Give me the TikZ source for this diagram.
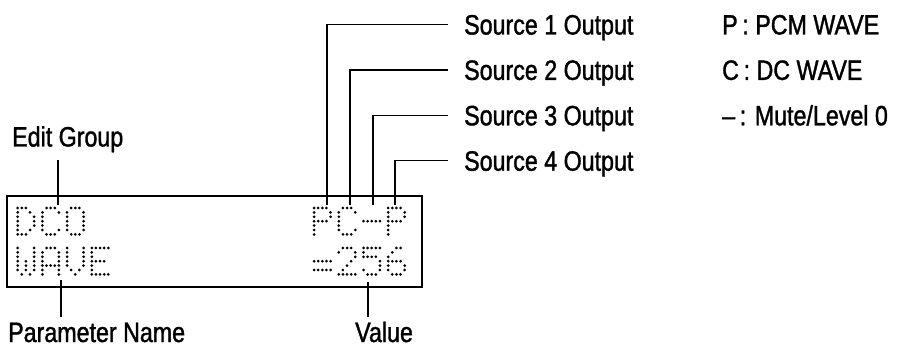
\documentclass[tikz,border=0pt]{standalone}
\usepackage{fontspec}
\setmainfont[FakeStretch=0.83, FakeBold=1.3]{Liberation Sans}
\usetikzlibrary{positioning}

% 5x7 dot glyphs, one row per item
\def\lcdD{11100,10010,10001,10001,10001,10010,11100}
\def\lcdC{01110,10001,10000,10000,10000,10001,01110}
\def\lcdO{01110,10001,10001,10001,10001,10001,01110}
\def\lcdW{10001,10001,10001,10101,10101,10101,01010}
\def\lcdA{01110,10001,10001,10001,11111,10001,10001}
\def\lcdV{10001,10001,10001,10001,10001,01010,00100}
\def\lcdE{11111,10000,10000,11110,10000,10000,11111}
\def\lcdP{11110,10001,10001,11110,10000,10000,10000}
\def\lcdDash{00000,00000,00000,11111,00000,00000,00000}
\def\lcdEq{00000,00000,00000,11111,00000,11111,00000}
\def\lcdTwo{01110,10001,00001,00010,00100,01000,11111}
\def\lcdFive{11111,10000,11110,00001,00001,10001,01110}
\def\lcdSix{00110,01000,10000,11110,10001,10001,01110}

\newcommand\lcddot[5]{\ifnum#1=1 \fill ({17.7+#3*24.7+#2*4.12},{208+#4*40+#5*4.4}) circle[radius=1.5pt];\fi}
\def\lcdrow#1#2#3#4#5\relax#6#7#8{%
  \lcddot{#1}{0}{#6}{#7}{#8}\lcddot{#2}{1}{#6}{#7}{#8}\lcddot{#3}{2}{#6}{#7}{#8}%
  \lcddot{#4}{3}{#6}{#7}{#8}\lcddot{#5}{4}{#6}{#7}{#8}}
\newcommand\lcdchar[3]{%
  \foreach \bits [count=\r from 0] in #3 {\expandafter\lcdrow\bits\relax{#1}{#2}{\r}}}

\begin{document}
\begin{tikzpicture}[
    x=1pt, y=-1pt,
    lbl/.style={inner sep=0pt, text height=20pt, text depth=0pt, font=\fontsize{28}{32}\selectfont},
    lcd/.style={draw, line width=1.9pt, minimum width=415pt, minimum height=91pt, inner sep=0pt},
    wire/.style={line width=1.5pt}
]
\useasboundingbox (0,0) rectangle (897,347);

% Display
\node[lcd] (lcd) at (214.5,241.5) {};
\lcdchar{0}{0}{\lcdD}
\lcdchar{1}{0}{\lcdC}
\lcdchar{2}{0}{\lcdO}
\lcdchar{12}{0}{\lcdP}
\lcdchar{13}{0}{\lcdC}
\lcdchar{14}{0}{\lcdDash}
\lcdchar{15}{0}{\lcdP}
\lcdchar{0}{1}{\lcdW}
\lcdchar{1}{1}{\lcdA}
\lcdchar{2}{1}{\lcdV}
\lcdchar{3}{1}{\lcdE}
\lcdchar{12}{1}{\lcdEq}
\lcdchar{13}{1}{\lcdTwo}
\lcdchar{14}{1}{\lcdFive}
\lcdchar{15}{1}{\lcdSix}

% Labels
\node[lbl, anchor=west] (src1) at (464,24.5) {Source 1 Output};
\node[lbl, below=25pt of src1] (src2) {Source 2 Output};
\node[lbl, below=25pt of src2] (src3) {Source 3 Output};
\node[lbl, below=25pt of src3] (src4) {Source 4 Output};

\node[lbl, anchor=west] (pcm) at (722,24.5) {P\,: PCM WAVE};
\node[lbl, below=25pt of pcm.south west, anchor=north west] (dcw) {C\,: DC WAVE};
\node[lbl, below=25pt of dcw.south west, anchor=north west] (mute) {--\,: Mute/Level 0};

\node[lbl, anchor=west] (edit) at (12,136.5) {Edit Group};
\node[lbl, anchor=west] (param) at (8,332) {Parameter Name};
\node[lbl, anchor=west] (value) at (355,332) {Value};

% Pins on the display
\coordinate (pin1) at (327,205);
\coordinate (pin2) at (350,205);
\coordinate (pin3) at (373,205);
\coordinate (pin4) at (395,205);
\coordinate (grp) at (58,205);
\coordinate (pname) at (61,280);
\coordinate (pval) at (368,282);

\draw[wire] (pin1) |- ([xshift=-16pt]src1.west);
\draw[wire] (pin2) |- ([xshift=-16pt]src2.west);
\draw[wire] (pin3) |- ([xshift=-16pt]src3.west);
\draw[wire] (pin4) |- ([xshift=-16pt]src4.west);
\draw[wire, shorten >=13.5pt] (grp) -- (grp |- edit.south);
\draw[wire, shorten >=5pt] (pname) -- (pname |- param.north);
\draw[wire, shorten >=5pt] (pval) -- (pval |- value.north);

\end{tikzpicture}
\end{document}
